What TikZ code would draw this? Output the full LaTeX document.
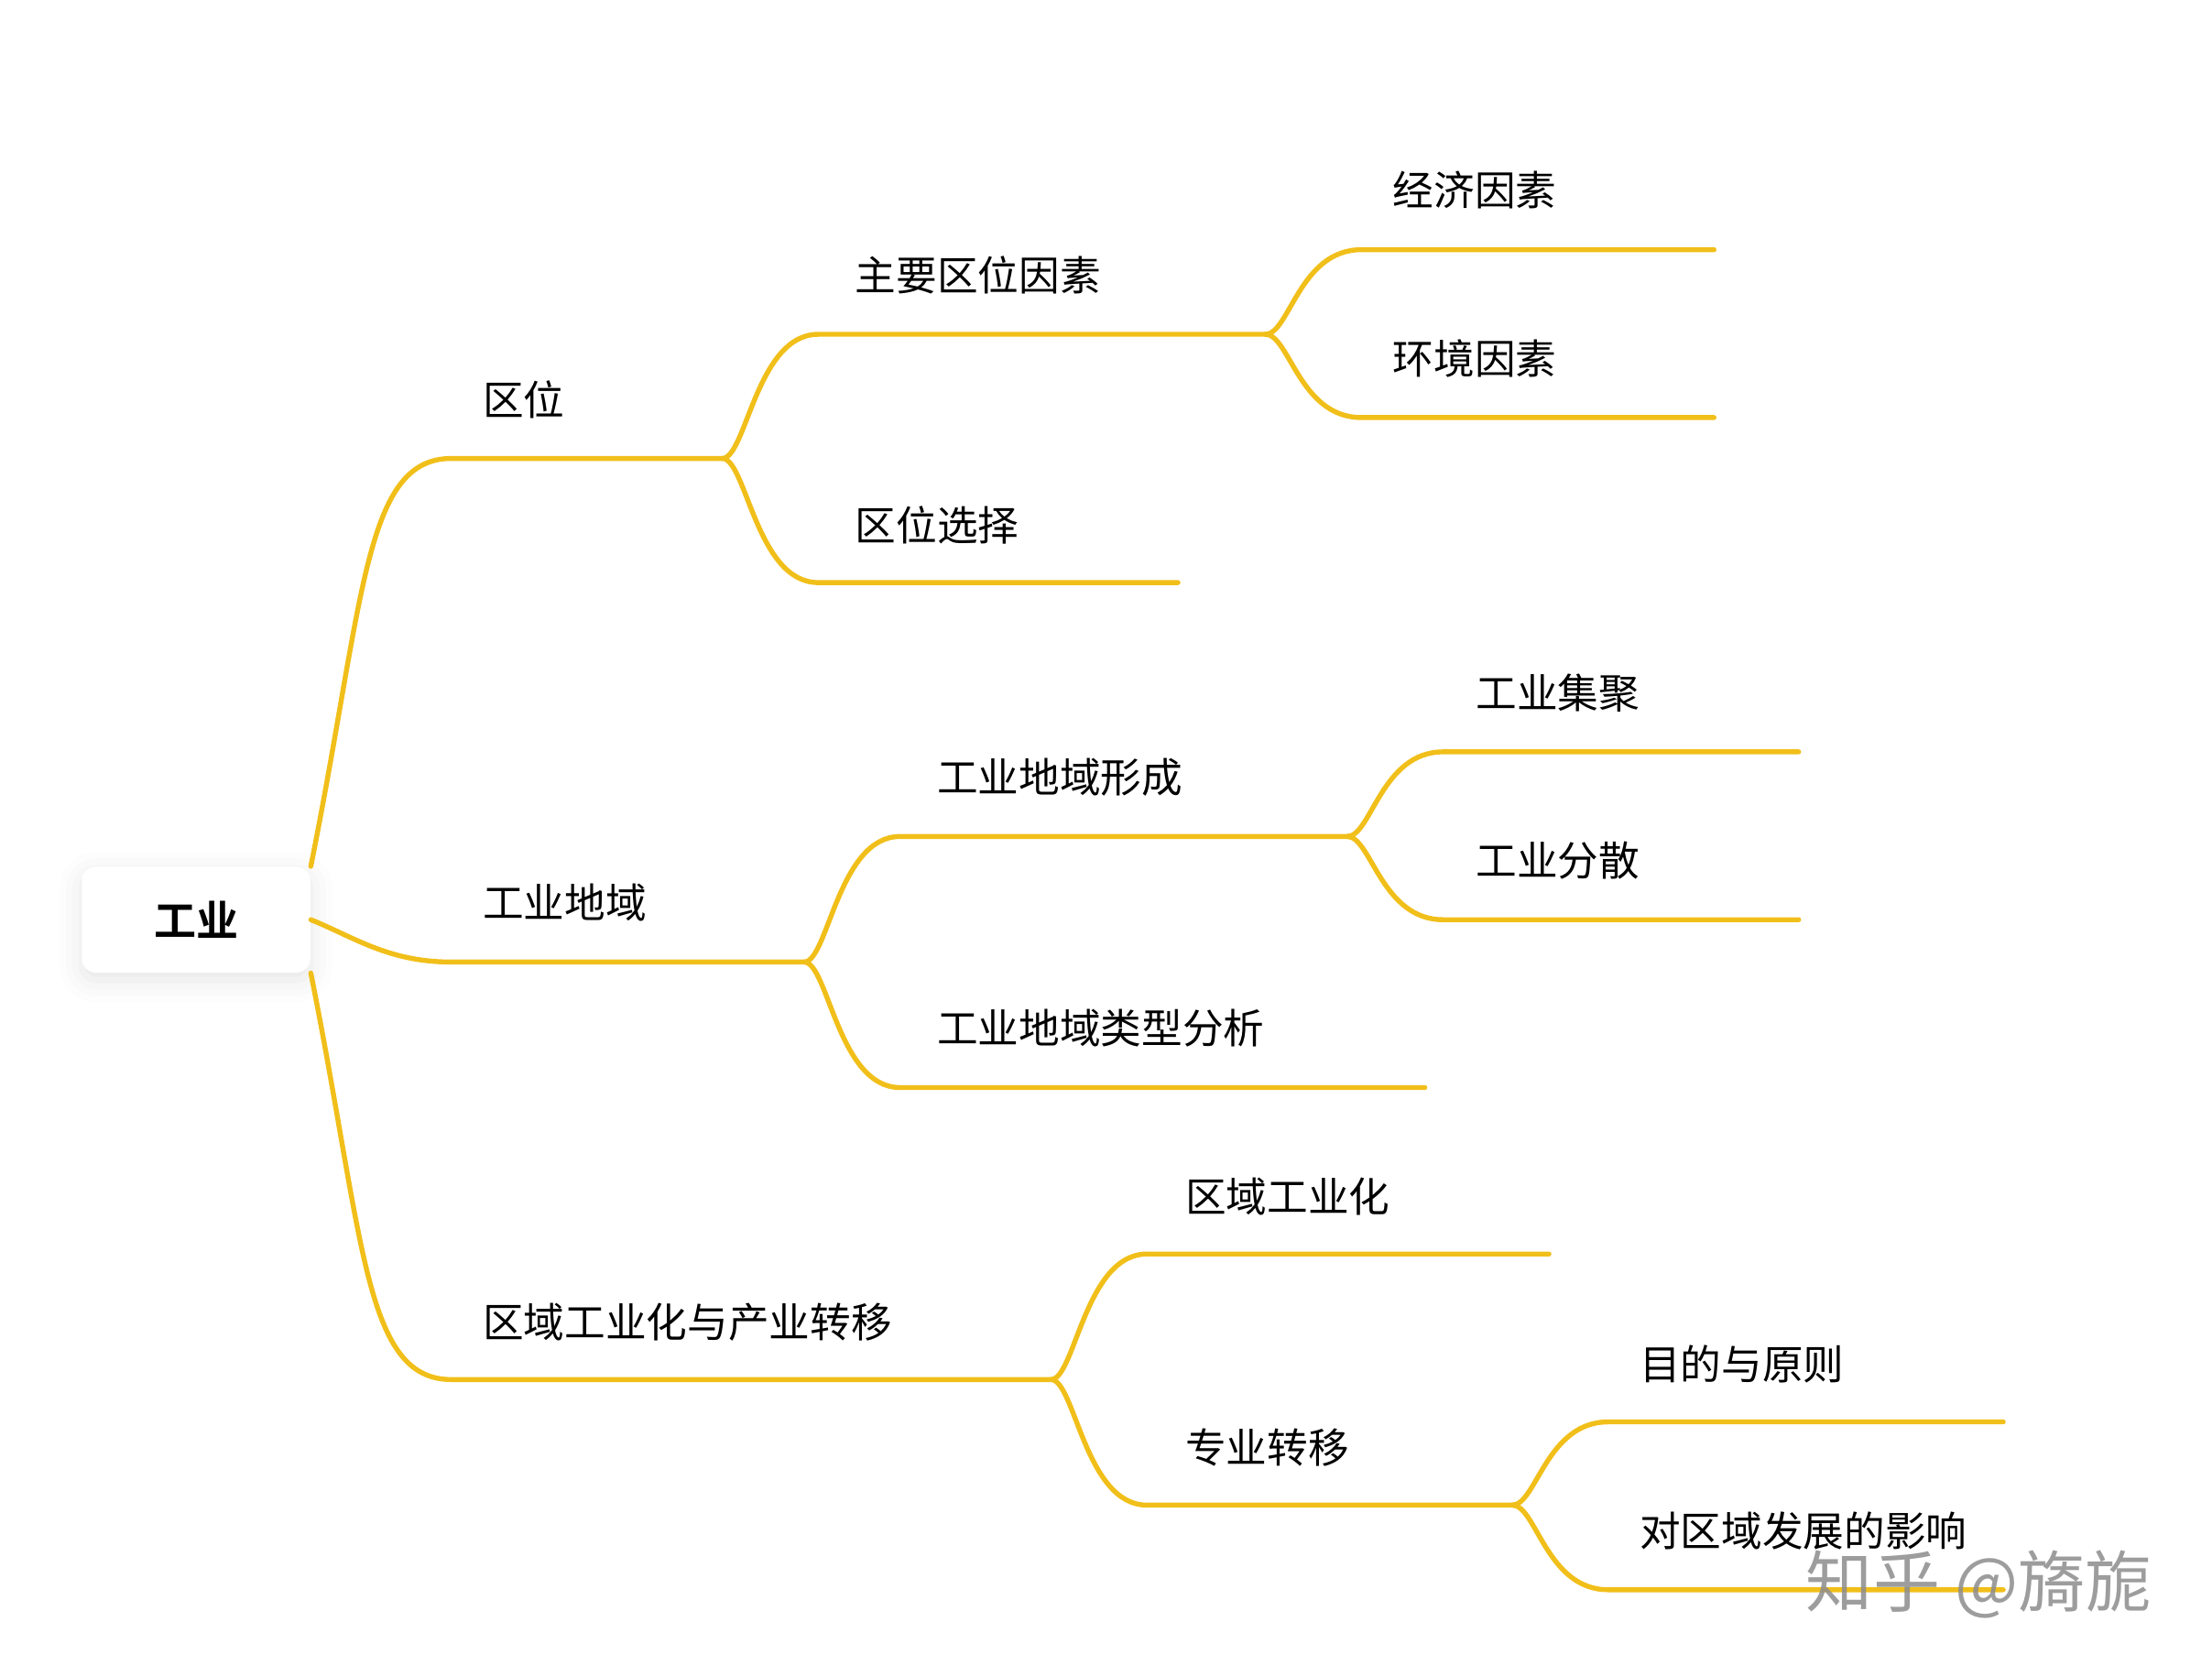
\documentclass[tikz,border=0pt]{standalone}
\usepackage{fontspec}
\newfontfamily\cjk{Noto Sans CJK SC}
\newfontfamily\cjkbold{Noto Sans CJK SC Bold}
\usetikzlibrary{shadows.blur}
\definecolor{gold}{RGB}{241,191,26}
\tikzset{
	yline/.style={line width=2pt, color=gold, line cap=round},
	topic/.style={anchor=west, inner sep=0pt, font=\cjk\fontsize{16.5}{20}\selectfont},
	rootbox/.style={rounded corners=0.2cm, fill=white, minimum width=3.24cm, minimum height=1.5cm,
		font=\cjkbold\fontsize{17}{20}\selectfont,
		blur shadow={shadow xshift=0pt, shadow yshift=-3pt, shadow blur radius=9pt, shadow opacity=10}},
	watermark/.style={anchor=west, inner sep=0pt, color=black!45, opacity=0.85, font=\cjk\fontsize{27}{30}\selectfont}
}
\def\branch(#1)(#2){\draw[yline] (#1-r) .. controls +(17,0) and +(-44,0) .. (#2-l) -- (#2-r);}

\begin{document}
\begin{tikzpicture}[x=0.02cm, y=-0.02cm]
			%%%%% START %%%%%
			\useasboundingbox (0,0) rectangle (1568,1188);
			
			\node[rootbox] (gongye) at (139,652) {工业};
			
			% first level
			\coordinate (quwei-l) at (320,325);
			\coordinate (quwei-r) at (512,325);
			\node[topic] (quwei) at (342,283) {区位};
			
			\coordinate (diyu-l) at (320,682);
			\coordinate (diyu-r) at (570,682);
			\node[topic] (diyu) at (342,640) {工业地域};
			
			\coordinate (zhuanyi-l) at (320,978);
			\coordinate (zhuanyi-r) at (745,978);
			\node[topic] (zhuanyi) at (342,937) {区域工业化与产业转移};
			
			\draw[yline] (gongye.north east) .. controls +(38,-190) and +(-62,0) .. (quwei-l) -- (quwei-r);
			\draw[yline] (gongye.east) .. controls +(30,12) and +(-45,0) .. (diyu-l) -- (diyu-r);
			\draw[yline] (gongye.south east) .. controls +(38,190) and +(-62,0) .. (zhuanyi-l) -- (zhuanyi-r);
			
			% second level
			\coordinate (zhuyao-l) at (580,237);
			\coordinate (zhuyao-r) at (897,237);
			\node[topic] (zhuyao) at (606,195) {主要区位因素};
			
			\coordinate (xuanze-l) at (580,413);
			\coordinate (xuanze-r) at (835,413);
			\node[topic] (xuanze) at (606,372) {区位选择};
			
			\coordinate (xingcheng-l) at (638,593);
			\coordinate (xingcheng-r) at (955,593);
			\node[topic] (xingcheng) at (664,551) {工业地域形成};
			
			\coordinate (leixing-l) at (638,771);
			\coordinate (leixing-r) at (1010,771);
			\node[topic] (leixing) at (664,729) {工业地域类型分析};
			
			\coordinate (gyh-l) at (813,889);
			\coordinate (gyh-r) at (1098,889);
			\node[topic] (gyh) at (840,848) {区域工业化};
			
			\coordinate (zhuanye-l) at (813,1067);
			\coordinate (zhuanye-r) at (1072,1067);
			\node[topic] (zhuanye) at (840,1026) {专业转移};
			
			\branch(quwei)(zhuyao)
			\branch(quwei)(xuanze)
			\branch(diyu)(xingcheng)
			\branch(diyu)(leixing)
			\branch(zhuanyi)(gyh)
			\branch(zhuanyi)(zhuanye)
			
			% third level
			\coordinate (jingji-l) at (965,177);
			\coordinate (jingji-r) at (1215,177);
			\node[topic] (jingji) at (987,135) {经济因素};
			
			\coordinate (huanjing-l) at (965,296);
			\coordinate (huanjing-r) at (1215,296);
			\node[topic] (huanjing) at (987,254) {环境因素};
			
			\coordinate (jiju-l) at (1023,533);
			\coordinate (jiju-r) at (1275,533);
			\node[topic] (jiju) at (1046,491) {工业集聚};
			
			\coordinate (fensan-l) at (1023,652);
			\coordinate (fensan-r) at (1275,652);
			\node[topic] (fensan) at (1046,610) {工业分散};
			
			\coordinate (mudi-l) at (1140,1008);
			\coordinate (mudi-r) at (1420,1008);
			\node[topic] (mudi) at (1162,967) {目的与原则};
			
			\coordinate (yingxiang-l) at (1140,1127);
			\coordinate (yingxiang-r) at (1420,1127);
			\node[topic] (yingxiang) at (1162,1085) {对区域发展的影响};
			
			\branch(zhuyao)(jingji)
			\branch(zhuyao)(huanjing)
			\branch(xingcheng)(jiju)
			\branch(xingcheng)(fensan)
			\branch(zhuanye)(mudi)
			\branch(zhuanye)(yingxiang)
			
			\node[watermark] (zhihu) at (1280,1123) {知乎 @旖旎};
			
			%%%%% END %%%%%
\end{tikzpicture}
\end{document}
